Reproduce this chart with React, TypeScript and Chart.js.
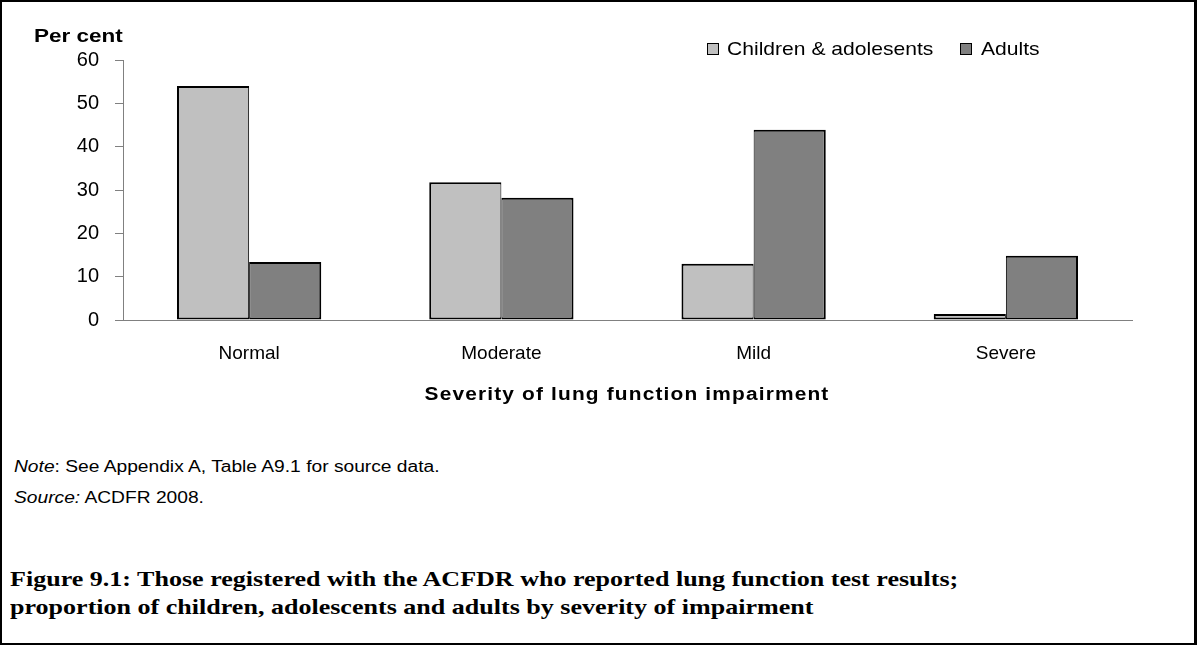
import React, { useEffect, useRef } from "react";
import { Chart, registerables } from "chart.js";

Chart.register(...registerables);

const categories = ["Normal", "Moderate", "Mild", "Severe"];
const childrenValues = [54, 31.8, 13, 1.4];
const adultValues = [13.4, 28.2, 43.9, 14.8];
const seriesNames = ["Children & adolesents", "Adults"];
const seriesColors = ["#C0C0C0", "#808080"];
const yTickValues = [0, 10, 20, 30, 40, 50, 60];

const SANS = "'Liberation Sans', Arial, sans-serif";
const SERIF = "'Liberation Serif', 'Times New Roman', serif";

export default function App() {
  const canvasRef = useRef<HTMLCanvasElement | null>(null);

  useEffect(() => {
    document.body.style.margin = "0";
    const canvas = canvasRef.current;
    if (!canvas) return;
    Chart.defaults.font.family = SANS;
    const chart = new Chart(canvas, {
      type: "bar",
      data: {
        labels: categories,
        datasets: [
          {
            label: seriesNames[0],
            data: childrenValues,
            backgroundColor: seriesColors[0],
            borderColor: "#000000",
            borderWidth: { top: 2, left: 2, bottom: 2, right: 1 },
            borderSkipped: false,
            barPercentage: 1,
            categoryPercentage: 0.572,
          },
          {
            label: seriesNames[1],
            data: adultValues,
            backgroundColor: seriesColors[1],
            borderColor: "#000000",
            borderWidth: { top: 2, left: 1, bottom: 2, right: 2 },
            borderSkipped: false,
            barPercentage: 1,
            categoryPercentage: 0.572,
          },
        ],
      },
      options: {
        responsive: false,
        animation: false,
        events: [],
        layout: { padding: { top: 60, right: 65, left: 0, bottom: 0 } },
        plugins: {
          legend: { display: false },
          tooltip: { enabled: false },
          title: { display: false },
        },
        scales: {
          x: {
            grid: { display: false },
            border: { display: true, color: "#808080", width: 1 },
            ticks: {
              color: "#000000",
              font: { family: SANS, size: 19 },
              padding: 14,
            },
            afterFit: (s: any) => {
              s.height = 100;
            },
          },
          y: {
            min: 0,
            max: 60,
            afterBuildTicks: (s: any) => {
              s.ticks = yTickValues.map((v) => ({ value: v }));
            },
            grid: {
              display: true,
              drawOnChartArea: false,
              drawTicks: true,
              tickLength: 8,
              color: "#808080",
            },
            border: { display: true, color: "#808080", width: 1 },
            ticks: {
              color: "#000000",
              font: { family: SANS, size: 20 },
              padding: 16,
            },
            afterFit: (s: any) => {
              s.width = 123;
            },
          },
        },
      },
    });
    return () => chart.destroy();
  }, []);

  const boxStyle = (color: string, left: number): React.CSSProperties => ({
    position: "absolute",
    left,
    top: 43,
    width: 12,
    height: 12,
    boxSizing: "border-box",
    border: "1.5px solid #000",
    background: color,
  });

  const textBase: React.CSSProperties = {
    position: "absolute",
    whiteSpace: "nowrap",
    lineHeight: 1,
    transformOrigin: "0 50%",
    color: "#000",
  };

  return (
    <div style={{ position: "absolute", left: 0, top: 0, width: 1197, height: 645, background: "#fff", overflow: "hidden" }}>
      <canvas ref={canvasRef} width={1197} height={420} style={{ position: "absolute", left: 0, top: 0 }} />
      <div style={{ ...textBase, left: 34, top: 27, fontFamily: SANS, fontWeight: "bold", fontSize: 18, transform: "scaleX(1.25)" }}>
        Per cent
      </div>
      <div style={boxStyle(seriesColors[0], 707)} />
      <div style={{ ...textBase, left: 727, top: 38.5, fontFamily: SANS, fontSize: 19, transform: "scaleX(1.11)" }}>
        {seriesNames[0]}
      </div>
      <div style={boxStyle(seriesColors[1], 960)} />
      <div style={{ ...textBase, left: 981, top: 38.5, fontFamily: SANS, fontSize: 19, transform: "scaleX(1.11)" }}>
        {seriesNames[1]}
      </div>
      <div style={{ ...textBase, left: 627, top: 384.5, fontFamily: SANS, fontWeight: "bold", fontSize: 18, letterSpacing: 1, transformOrigin: "50% 50%", transform: "translateX(-50%) scaleX(1.16)" }}>
        Severity of lung function impairment
      </div>
      <div style={{ ...textBase, left: 14, top: 459, fontFamily: SANS, fontSize: 16, transform: "scaleX(1.2)" }}>
        <i>Note</i>: See Appendix A, Table A9.1 for source data.
      </div>
      <div style={{ ...textBase, left: 14, top: 490, fontFamily: SANS, fontSize: 16, transform: "scaleX(1.2)" }}>
        <i>Source:</i> ACDFR 2008.
      </div>
      <div style={{ ...textBase, left: 10, top: 568.5, fontFamily: SERIF, fontWeight: "bold", fontSize: 21, transform: "scaleX(1.24)" }}>
        Figure 9.1: Those registered with the ACFDR who reported lung function test results;
      </div>
      <div style={{ ...textBase, left: 10, top: 596.5, fontFamily: SERIF, fontWeight: "bold", fontSize: 21, transform: "scaleX(1.24)" }}>
        proportion of children, adolescents and adults by severity of impairment
      </div>
      <div style={{ position: "absolute", left: 0, top: 0, width: 1197, height: 645, boxSizing: "border-box", borderTop: "2px solid #000", borderLeft: "2px solid #000", borderBottom: "2px solid #000", borderRight: "3px solid #000", pointerEvents: "none" }} />
    </div>
  );
}
